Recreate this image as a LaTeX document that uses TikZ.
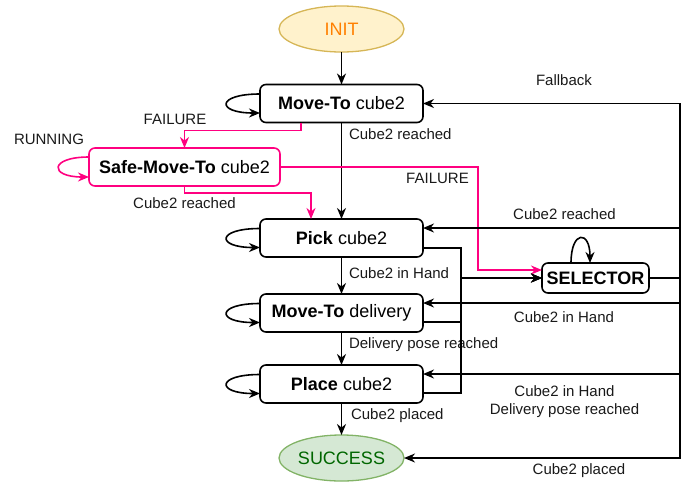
\documentclass[tikz,border=0pt]{standalone}
\usepackage{fontspec}
\setmainfont{Liberation Sans}
\usetikzlibrary{shapes.geometric,arrows.meta,calc}
\definecolor{pk}{HTML}{FF0080}
\definecolor{initfill}{HTML}{FFF2CC}
\definecolor{initdraw}{HTML}{D6B656}
\definecolor{inittext}{HTML}{FF8000}
\definecolor{succfill}{HTML}{D5E8D4}
\definecolor{succdraw}{HTML}{82B366}
\definecolor{succtext}{HTML}{006600}
\tikzset{
  every node/.style={inner sep=0pt, outer sep=0pt},
  boxfont/.style={font=\fontsize{18}{21}\selectfont},
  lblfont/.style={font=\fontsize{15}{18}\selectfont, text=black!90},
  state/.style={boxfont, draw, line width=1.6pt, rounded corners=6pt, minimum width=163pt, minimum height=38pt},
  pkstate/.style={state, draw=pk, minimum width=191pt},
  term/.style={boxfont, ellipse, line width=1.3pt, minimum width=125pt, minimum height=46pt},
  conn/.style={line width=1.6pt, -{Stealth[length=11pt,width=9pt,inset=3.5pt]}},
  plain/.style={line width=1.6pt},
  pkconn/.style={conn, draw=pk},
}
\begin{document}
\begin{tikzpicture}[x=1pt,y=-1pt]
\useasboundingbox (0,0) rectangle (684,485);
% states
\node[term, draw=initdraw, fill=initfill, text=inittext] (init) at (341.5,29) {INIT};
\node[state] (mt) at (341.5,103.5) {\textbf{Move-To} cube2};
\node[pkstate] (safe) at (184.5,167) {\textbf{Safe-Move-To} cube2};
\node[state] (pick) at (341.5,238) {\textbf{Pick} cube2};
\node[state] (mtd) at (341.5,313) {\textbf{Move-To} delivery};
\node[state] (place) at (341.5,384) {\textbf{Place} cube2};
\node[term, draw=succdraw, fill=succfill, text=succtext] (succ) at (341.5,458) {SUCCESS};
\node[state, minimum width=107pt, minimum height=30pt] (sel) at (595.5,278) {\textbf{SELECTOR}};
\coordinate (bus) at (680,278);
\coordinate (lb) at (461,278);
% main chain
\draw[conn] (init) -- (mt);
\draw[conn] (mt) -- (pick);
\draw[conn] (pick) -- (mtd);
\draw[conn] (mtd) -- (place);
\draw[conn] (place) -- (succ);
% labels of the chain
\node[lblfont, anchor=west] (l1) at (349,134) {Cube2 reached};
\node[lblfont, anchor=west] (l2) at (349,273) {Cube2 in Hand};
\node[lblfont, anchor=west] (l3) at (349,345) {Delivery pose reached};
\node[lblfont, anchor=west] (l4) at (351,416) {Cube2 placed};
% pink edges
\draw[pkconn] ([xshift=-40.5pt]mt.south) -- ++(0,8) -| (safe.north);
\node[lblfont] (l5) at (175,119) {FAILURE};
\draw[pkconn] (safe.south) -- ++(0,7) -| ([xshift=-30.5pt]pick.north);
\node[lblfont] (l6) at (184.5,203) {Cube2 reached};
\draw[pkconn] (safe.east) -- ++(198,0) |- ([yshift=8pt]sel.west);
\node[lblfont] (l7) at (437.5,178) {FAILURE};
% self loops
\foreach \n/\d/\o in {mt/9.5/44, pick/9.5/44, mtd/9.5/44, place/9.5/44}{
  \draw[conn] ([yshift=\d pt]\n.west) .. controls ([xshift=-\o pt,yshift=\d pt]\n.west) and ([xshift=-\o pt,yshift=-\d pt]\n.west) .. ([yshift=-\d pt]\n.west);
}
\draw[pkconn] ([yshift=10pt]safe.west) .. controls ([xshift=-40pt,yshift=10pt]safe.west) and ([xshift=-40pt,yshift=-10pt]safe.west) .. ([yshift=-10pt]safe.west);
\node[lblfont] (l8) at (49,139) {RUNNING};
\draw[conn] ([xshift=-24.5pt]sel.north) .. controls ([xshift=-24.5pt,yshift=33pt]sel.north) and ([xshift=-5.5pt,yshift=33pt]sel.north) .. ([xshift=-5.5pt]sel.north);
% into selector
\draw[conn] ([yshift=-10pt]pick.east) -| (lb) -- (sel.west);
\draw[conn] ([yshift=-9pt]mtd.east) -| (lb) -- (sel.west);
\draw[conn] ([yshift=-9pt]place.east) -| (lb) -- (sel.west);
% out of selector
\draw[plain] (sel.east) -- (bus);
\draw[conn] (bus) |- (mt.east);
\draw[conn] (bus) |- ([yshift=10pt]pick.east);
\draw[conn] (bus) |- ([yshift=10pt]mtd.east);
\draw[conn] (bus) |- ([yshift=10pt]place.east);
\draw[conn] (bus) |- (succ.east);
\node[lblfont] (r1) at (564,80) {Fallback};
\node[lblfont] (r2) at (564.5,214) {Cube2 reached};
\node[lblfont] (r3) at (564,317) {Cube2 in Hand};
\node[lblfont, align=center] (r4) at (564.5,402) {Cube2 in Hand\\Delivery pose reached};
\node[lblfont] (r5) at (579,471) {Cube2 placed};
\end{tikzpicture}
\end{document}
